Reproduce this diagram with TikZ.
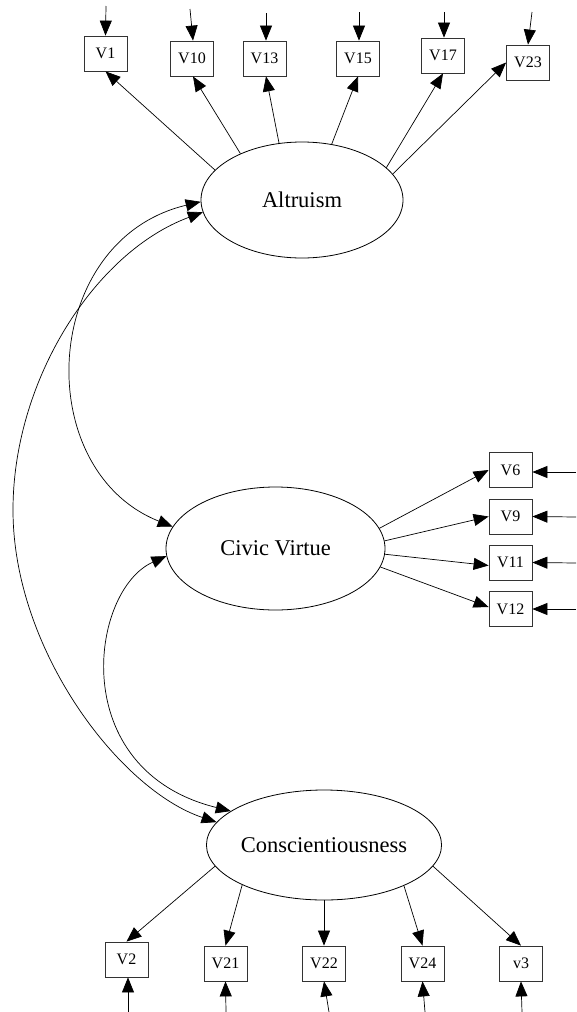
\documentclass[tikz,border=0pt]{standalone}
\usepackage{fontspec}
\setmainfont{Liberation Serif}
\usetikzlibrary{arrows.meta,shapes.geometric}
\begin{document}
\begin{tikzpicture}[x=1pt,y=-1pt,
  lat/.style={ellipse,draw,line width=0.8pt,inner sep=0pt,font=\fontsize{22.5}{27}\selectfont},
  obs/.style={rectangle,draw=black!80,line width=0.8pt,minimum width=43pt,minimum height=35pt,inner sep=0pt,font=\fontsize{16}{19}\selectfont},
  arr/.style={-{Triangle[length=15pt,width=12pt]},line width=0.7pt},
  cov/.style={{Triangle[length=15pt,width=12pt]}-{Triangle[length=15pt,width=12pt]},line width=0.7pt}]
\useasboundingbox (0,0) rectangle (576,1012);

% latent variables
\node[lat,minimum width=202pt,minimum height=116pt] (alt) at (302,200) {Altruism};
\node[lat,minimum width=219pt,minimum height=123pt] (civ) at (275.5,548.5) {Civic Virtue};
\node[lat,minimum width=194pt,minimum height=110pt] (con) at (324,845) {Conscientiousness};

% Altruism indicators
\node[obs] (v1)  at (105.5,53.5) {V1};
\node[obs] (v10) at (192,58.5) {V10};
\node[obs] (v13) at (264.5,58.5) {V13};
\node[obs] (v15) at (358,58.5) {V15};
\node[obs] (v17) at (443,55.5) {V17};
\node[obs] (v23) at (528,62.5) {V23};

% Civic Virtue indicators
\node[obs] (v6)  at (510.5,470) {V6};
\node[obs] (v9)  at (510.5,516.5) {V9};
\node[obs] (v11) at (510.5,562.5) {V11};
\node[obs] (v12) at (510.5,609) {V12};

% Conscientiousness indicators
\node[obs] (v2)  at (126.5,959.5) {V2};
\node[obs] (v21) at (225.5,963.5) {V21};
\node[obs] (v22) at (324,963.5) {V22};
\node[obs] (v24) at (422.5,963.5) {V24};
\node[obs] (v3)  at (521,963.5) {v3};

% error term starts
\coordinate (e1)  at (106,6);
\coordinate (e10) at (190,9);
\coordinate (e13) at (266,13);
\coordinate (e15) at (359,12);
\coordinate (e17) at (444,12);
\coordinate (e23) at (532,12);
\coordinate (e6)  at (576,472);
\coordinate (e9)  at (576,517);
\coordinate (e11) at (576,563);
\coordinate (e12) at (576,609);
\coordinate (e2)  at (128,1012);
\coordinate (e21) at (226,1012);
\coordinate (e22) at (329,1012);
\coordinate (e24) at (425,1012);
\coordinate (e3)  at (522,1012);

\draw[arr] (e1) -- (v1.north);
\draw[arr] (e10) -- ([xshift=1pt]v10.north);
\draw[arr] (e13) -- ([xshift=1.5pt]v13.north);
\draw[arr] (e15) -- ([xshift=1pt]v15.north);
\draw[arr] (e17) -- ([xshift=1pt]v17.north);
\draw[arr] (e23) -- (v23.north);
\draw[arr] (e6) -- ([yshift=-2pt]v6.east);
\draw[arr] (e9) -- (v9.east);
\draw[arr] (e11) -- (v11.east);
\draw[arr] (e12) -- (v12.east);
\draw[arr] (e2) -- ([xshift=1.5pt]v2.south);
\draw[arr] (e21) -- (v21.south);
\draw[arr] (e22) -- (v22.south);
\draw[arr] (e24) -- (v24.south);
\draw[arr] (e3) -- (v3.south);

% loadings
\draw[arr] (alt.161.4) -- (v1.south);
\draw[arr] (alt.143.1) -- ([xshift=1pt]v10.south);
\draw[arr] (alt.112.1) -- ([xshift=1.5pt]v13.south);
\draw[arr] (alt.62.3) -- (v15.south);
\draw[arr] (alt.21.4) -- (v17.south);
\draw[arr] (alt.16.6) -- (v23.west);

\draw[arr] (civ.11.3) -- (v6.west);
\draw[arr] (civ.4.4) -- (v9.west);
\draw[arr] (civ.-3.4) -- ([yshift=-3pt]v11.west);
\draw[arr] (civ.-10.6) -- ([yshift=2pt]v12.west);

\draw[arr] (con.191.1) -- (v2.north);
\draw[arr] (con.206.9) -- (v21.north);
\draw[arr] (con.270) -- (v22.north);
\draw[arr] (con.333.1) -- (v24.north);
\draw[arr] (con.349) -- (v3.north);

% covariances
\draw[cov] (alt.181.1) .. controls (40,240) and (30,470) .. (civ.168.2);
\draw[cov] (civ.184.5) .. controls (90,590) and (65,770) .. (con.160.3);
\coordinate (m) at (13,510);
\draw[cov] (alt.187.6) .. controls (95,252) and (13,380) .. (m) .. controls (13,650) and (120,790) .. (con.168.6);
\end{tikzpicture}
\end{document}
